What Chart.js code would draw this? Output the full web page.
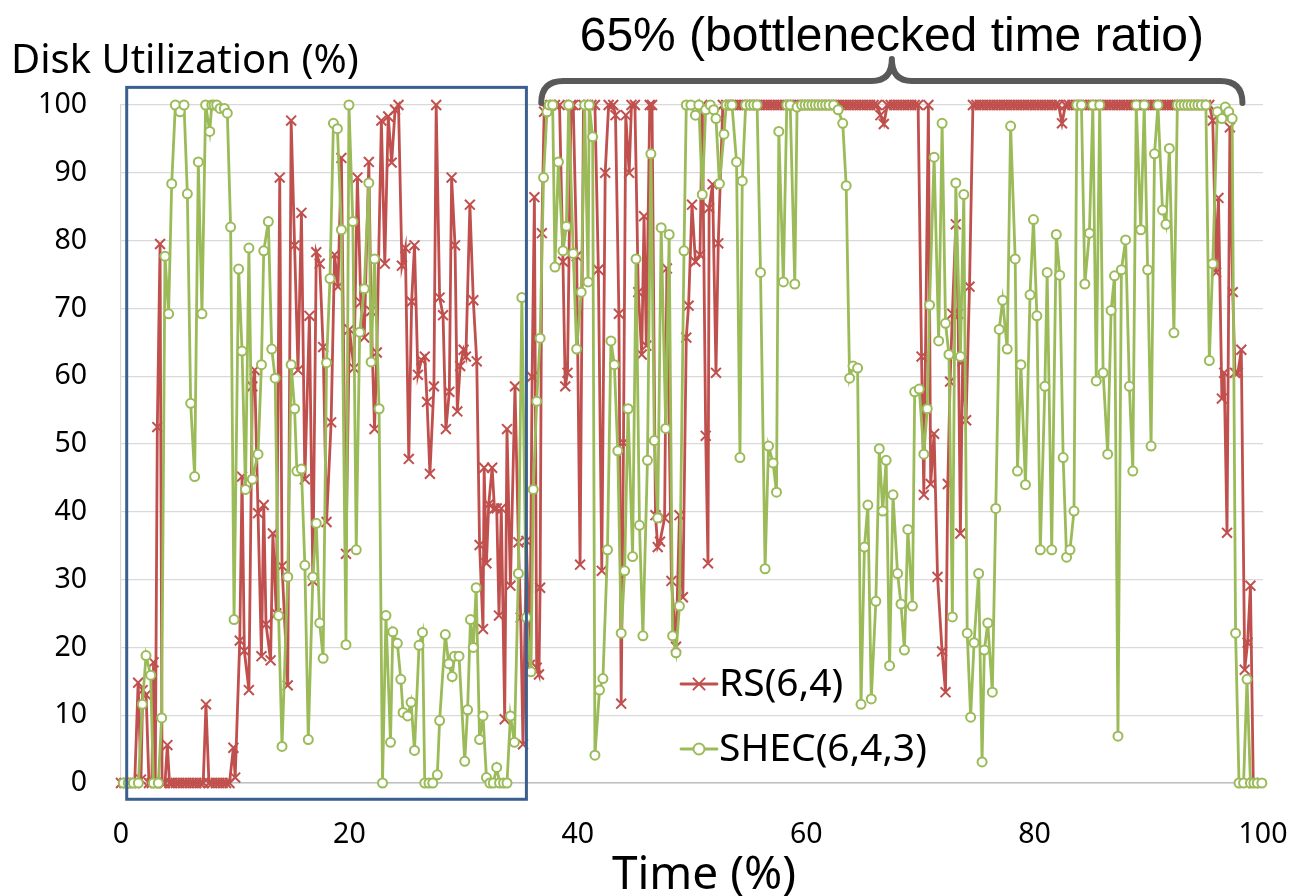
<!DOCTYPE html>
<html lang="en">
<head>
    <meta charset="UTF-8">
    <title>Disk Utilization</title>
    <script src="https://cdn.jsdelivr.net/npm/chart.js"></script>
    <style>
        html, body { margin: 0; padding: 0; background: #fff; }
    </style>
</head>
<body>
    <canvas id="diskChart" width="1293" height="896"></canvas>

    <script>
        // RS(6,4): time (%) and disk utilization (%)
        const rsTime = [
            0, 0.3, 0.6, 0.9, 1.2, 1.5, 1.75, 1.9, 2.2, 2.45,
            2.7, 2.85, 3.0, 3.18, 3.42, 3.6, 3.85, 4.06, 4.25, 4.5,
            4.8, 5.1, 5.4, 5.7, 6.0, 6.3, 6.6, 6.9, 7.2, 7.44,
            7.7, 8.0, 8.3, 8.6, 8.9, 9.2, 9.5, 9.84, 10.0, 10.4,
            10.6, 10.8, 11.2, 11.5, 11.7, 12.0, 12.3, 12.5, 12.7, 13.1,
            13.3, 13.6, 13.9, 14.1, 14.6, 14.9, 15.2, 15.5, 15.8, 16.1,
            16.5, 16.8, 17.1, 17.4, 17.7, 18.0, 18.4, 18.7, 19.0, 19.3,
            19.7, 20.0, 20.4, 20.7, 21.0, 21.3, 21.7, 21.9, 22.2, 22.4,
            22.8, 23.1, 23.4, 23.7, 24.0, 24.3, 24.6, 24.9, 25.2, 25.45,
            25.7, 26.0, 26.3, 26.6, 26.8, 27.05, 27.4, 27.6, 27.9, 28.2,
            28.45, 28.75, 28.95, 29.25, 29.45, 29.7, 30.0, 30.2, 30.55, 30.85,
            31.15, 31.4, 31.7, 31.8, 32.0, 32.2, 32.5, 32.7, 32.9, 33.1,
            33.3, 33.6, 33.8, 34.1, 34.5, 34.8, 35.0, 35.2, 35.5, 35.8,
            36.0, 36.2, 36.4, 36.6, 36.7, 36.85, 37.05, 37.3, 37.6, 38.0,
            38.4, 38.7, 38.9, 39.1, 39.4, 39.6, 39.9, 40.2, 40.5, 40.9,
            41.2, 41.5, 41.8, 42.1, 42.4, 42.7, 43.1, 43.3, 43.6, 43.8,
            44.0, 44.2, 44.5, 44.7, 45.0, 45.3, 45.6, 45.8, 46.0, 46.3,
            46.5, 46.8, 47.0, 47.2, 47.6, 47.8, 48.2, 48.6, 48.9, 49.2,
            49.5, 49.7, 50.0, 50.3, 50.7, 50.9, 51.2, 51.4, 51.5, 51.8,
            52.1, 52.3, 52.7, 53.0, 53.3, 53.6, 53.9, 54.2, 54.5, 54.8,
            55.1, 55.4, 55.7, 56.0, 56.3, 56.6, 56.9, 57.2, 57.5, 57.8,
            58.1, 58.4, 58.7, 59.0, 59.3, 59.6, 59.9, 60.2, 60.5, 60.8,
            61.1, 61.4, 61.7, 62.0, 62.3, 62.6, 62.9, 63.2, 63.5, 63.8,
            64.1, 64.4, 64.7, 65.0, 65.3, 65.6, 65.9, 66.2, 66.5, 66.8,
            67.1, 67.4, 67.7, 68.0, 68.3, 68.6, 68.9, 69.2, 69.5, 69.8,
            70.1, 70.3, 70.7, 70.9, 71.2, 71.5, 71.9, 72.2, 72.4, 72.6,
            72.8, 73.1, 73.3, 73.5, 73.7, 74.0, 74.3, 74.6, 74.9, 75.2,
            75.5, 75.8, 76.1, 76.4, 76.7, 77.0, 77.3, 77.6, 77.9, 78.2,
            78.5, 78.8, 79.1, 79.4, 79.7, 80.0, 80.3, 80.6, 80.9, 81.2,
            81.5, 81.8, 82.1, 82.4, 82.7, 83.0, 83.3, 83.6, 83.9, 84.2,
            84.5, 84.8, 85.1, 85.4, 85.7, 86.0, 86.3, 86.6, 86.9, 87.2,
            87.5, 87.8, 88.1, 88.4, 88.7, 89.0, 89.3, 89.6, 89.9, 90.2,
            90.5, 90.8, 91.1, 91.4, 91.7, 92.0, 92.3, 92.6, 92.9, 93.2,
            93.5, 93.8, 94.1, 94.4, 94.7, 95.0, 95.3, 95.6, 95.9, 96.1,
            96.4, 96.6, 96.85, 97.1, 97.35, 97.55, 97.8, 98.1, 98.4, 98.65,
            98.9, 99.15
        ];
        const rsUtil = [
            0, 0, 0, 0, 0, 14.8, 0.5, 13.7, 13, 0,
            0, 17.8, 0, 52.5, 79.5, 0, 0, 5.6, 0, 0,
            0, 0, 0, 0, 0, 0, 0, 0, 0, 11.6,
            0, 0, 0, 0, 0, 0, 0, 5.2, 0.8, 21,
            45.2, 19.5, 13.7, 58.5, 60.9, 39.8, 18.7, 41, 23.4, 18.1,
            36.8, 25, 89.3, 32, 14.4, 97.7, 79.3, 60.9, 84.1, 44.8,
            68.9, 29.8, 78.3, 76.6, 64.3, 38.5, 53.2, 77.9, 73.2, 92.2,
            33.8, 66.9, 61.2, 89.3, 70.9, 65.7, 91.6, 69.6, 52.2, 63.5,
            97.7, 76.6, 98.3, 91.5, 99.3, 100, 76.3, 78.9, 47.8, 71,
            79.3, 60.2, 62.4, 62.9, 56.2, 45.6, 58.5, 100, 71.6, 69,
            52.2, 57.7, 89.3, 79.3, 54.8, 61.5, 63.9, 62.9, 85.3, 71.2,
            62.2, 35.1, 22.7, 46.5, 32.4, 41.1, 46.5, 40.5, 40.5, 24.7,
            40.5, 9.4, 52.2, 29.1, 58.5, 35.5, 24.4, 5.7, 35.7, 17.4,
            59.9, 86.4, 17, 16, 28.8, 81.1, 99, 99.3, 100, 100,
            100, 76.9, 58.5, 60.5, 100, 100, 77.7, 32.2, 100, 100,
            100, 100, 75.7, 31.3, 90, 100, 100, 98.5, 69.2, 11.7,
            50.2, 98.5, 90, 100, 100, 72.4, 63.2, 83.6, 64.5, 100,
            100, 39.5, 34.8, 35.6, 39.1, 75.9, 29.8, 20.1, 39.5, 27.4,
            65.7, 70.4, 85.3, 76.9, 77.9, 100, 51.2, 32.4, 84.8, 88.3,
            60.5, 79.6, 100, 100, 100, 100, 100, 100, 100, 100,
            100, 100, 100, 100, 100, 100, 100, 100, 100, 100,
            100, 100, 100, 100, 100, 100, 100, 100, 100, 100,
            100, 100, 100, 100, 100, 100, 100, 100, 100, 100,
            100, 100, 100, 100, 100, 100, 100, 100, 98.5, 97.2,
            100, 100, 100, 100, 100, 100, 100, 100, 100, 100,
            62.9, 42.5, 100, 44.1, 51.5, 30.4, 19.4, 13.4, 44.1, 59.2,
            69.2, 82.4, 69.2, 36.8, 62.2, 53.5, 73.2, 100, 100, 100,
            100, 100, 100, 100, 100, 100, 100, 100, 100, 100,
            100, 100, 100, 100, 100, 100, 100, 100, 100, 100,
            100, 100, 100, 97.3, 100, 100, 100, 100, 100, 100,
            100, 100, 100, 100, 100, 100, 100, 100, 100, 100,
            100, 100, 100, 100, 100, 100, 100, 100, 100, 100,
            100, 100, 100, 100, 100, 100, 100, 100, 100, 100,
            100, 100, 100, 100, 100, 100, 100, 97.7, 75.3, 86.3,
            56.7, 60.5, 36.9, 96.7, 72.4, 60.5, 60.5, 63.9, 16.7, 20.7,
            29.1, 0
        ];

        // SHEC(6,4,3): time (%) and disk utilization (%)
        const shecTime = [
            0.2, 0.64, 1.08, 1.52, 1.87, 2.19, 2.6, 2.83, 3.27, 3.56,
            3.85, 4.17, 4.44, 4.76, 5.17, 5.52, 5.81, 6.1, 6.45, 6.77,
            7.09, 7.41, 7.77, 7.95, 8.15, 8.38, 8.67, 9.05, 9.31, 9.6,
            9.9, 10.3, 10.6, 10.9, 11.2, 11.5, 12.0, 12.3, 12.5, 12.9,
            13.2, 13.5, 13.8, 14.1, 14.6, 14.9, 15.2, 15.4, 15.8, 16.1,
            16.4, 16.8, 17.1, 17.4, 17.7, 18.0, 18.3, 18.6, 18.95, 19.3,
            19.7, 19.96, 20.3, 20.6, 20.9, 21.3, 21.7, 21.9, 22.2, 22.6,
            22.9, 23.2, 23.6, 23.8, 24.2, 24.5, 24.7, 25.1, 25.4, 25.7,
            26.1, 26.4, 26.6, 26.97, 27.3, 27.7, 27.9, 28.4, 28.7, 29.0,
            29.2, 29.6, 30.1, 30.35, 30.6, 30.85, 31.1, 31.4, 31.7, 32.0,
            32.3, 32.6, 32.9, 33.15, 33.5, 33.8, 34.1, 34.45, 34.8, 35.1,
            35.5, 35.9, 36.1, 36.4, 36.7, 37.0, 37.3, 37.5, 37.8, 38.0,
            38.3, 38.7, 39.0, 39.2, 39.6, 39.9, 40.3, 40.6, 40.9, 41.0,
            41.3, 41.5, 41.9, 42.2, 42.6, 42.9, 43.2, 43.5, 43.8, 44.1,
            44.4, 44.8, 45.1, 45.4, 45.7, 46.1, 46.4, 46.7, 47.0, 47.3,
            47.7, 48.0, 48.3, 48.6, 48.9, 49.3, 49.5, 49.9, 50.3, 50.6,
            50.9, 51.2, 51.6, 51.9, 52.1, 52.4, 52.8, 53.0, 53.3, 53.5,
            53.9, 54.2, 54.4, 54.7, 55.1, 55.4, 55.7, 56.0, 56.4, 56.7,
            57.1, 57.4, 57.6, 58.0, 58.3, 58.6, 59.0, 59.2, 59.6, 59.9,
            60.2, 60.5, 60.8, 61.1, 61.4, 61.7, 62.0, 62.4, 62.8, 63.2,
            63.5, 63.8, 64.1, 64.5, 64.8, 65.1, 65.4, 65.7, 66.1, 66.4,
            66.7, 67.0, 67.3, 67.6, 68.0, 68.3, 68.6, 68.9, 69.3, 69.5,
            69.9, 70.3, 70.6, 70.8, 71.2, 71.6, 71.9, 72.2, 72.5, 72.8,
            73.1, 73.5, 73.8, 74.1, 74.4, 74.7, 75.1, 75.4, 75.6, 75.9,
            76.3, 76.6, 76.9, 77.2, 77.6, 77.9, 78.3, 78.5, 78.8, 79.2,
            79.6, 79.9, 80.2, 80.5, 80.9, 81.1, 81.5, 81.9, 82.2, 82.5,
            82.8, 83.1, 83.45, 83.7, 84.1, 84.4, 84.8, 85.1, 85.4, 85.7,
            86.0, 86.4, 86.7, 87.0, 87.3, 87.6, 87.97, 88.3, 88.6, 88.9,
            89.3, 89.6, 89.9, 90.2, 90.5, 90.8, 91.2, 91.5, 91.8, 92.2,
            92.5, 92.8, 93.1, 93.4, 93.7, 94.0, 94.3, 94.6, 95.0, 95.3,
            95.6, 96.0, 96.4, 96.7, 97.0, 97.3, 97.6, 97.9, 98.3, 98.6,
            98.9, 99.2, 99.5, 99.9
        ];
        const shecUtil = [
            0, 0, 0, 0, 11.6, 18.8, 15.9, 0, 0, 9.6,
            77.7, 69.2, 88.4, 100, 99, 100, 86.9, 56, 45.2, 91.6,
            69.2, 100, 96.1, 100, 100, 100, 99.5, 99.5, 98.8, 82,
            24.1, 75.8, 63.7, 43.3, 78.9, 44.8, 48.5, 61.7, 78.5, 82.8,
            64, 59.7, 24.7, 5.4, 30.4, 61.7, 55.2, 46, 46.3, 32.1,
            6.4, 30.4, 38.3, 23.6, 18.4, 62, 74.4, 97.3, 96.5, 81.6,
            20.4, 100, 82.8, 34.4, 66.5, 72.9, 88.5, 62.1, 77.3, 55.2,
            0, 24.7, 6, 22.3, 20.6, 15.3, 10.4, 9.9, 11.9, 4.8,
            20.3, 22.2, 0, 0, 0, 1.2, 9.2, 21.9, 17.6, 15.7,
            18.7, 18.7, 3.2, 10.8, 24.1, 20, 28.8, 6.4, 9.9, 0.8,
            0, 0, 2.3, 0, 0, 0, 9.9, 6, 30.9, 71.6,
            24.4, 16.4, 43.3, 56.3, 65.6, 89.3, 99, 100, 100, 76.1,
            91.6, 78.5, 82.1, 100, 78.1, 64, 72.4, 100, 73.9, 100,
            95.3, 4.1, 13.7, 15.4, 34.4, 65.2, 61.7, 49, 22.1, 31.3,
            55.2, 33.4, 77.3, 38, 21.7, 47.6, 92.8, 50.5, 39.1, 81.9,
            52.3, 80.9, 21.7, 19.2, 26.1, 78.5, 100, 100, 98.5, 100,
            86.8, 99.3, 100, 99.3, 98, 88.4, 95.7, 100, 100, 100,
            91.6, 48, 88.8, 100, 100, 100, 100, 75.3, 31.6, 49.7,
            47.2, 42.9, 96.1, 73.9, 100, 100, 73.6, 99.7, 100, 100,
            100, 100, 100, 100, 100, 100, 100, 100, 99.3, 97.3,
            88.1, 59.7, 61.5, 61.2, 11.6, 34.8, 41, 12.4, 26.8, 49.3,
            40.1, 47.6, 17.3, 42.5, 30.9, 26.4, 19.6, 37.4, 26.1, 57.7,
            58.1, 48.5, 55.2, 70.5, 92.3, 65.2, 97.3, 67.8, 63.2, 24.5,
            88.5, 62.9, 86.8, 22.1, 9.7, 20.7, 30.9, 3.1, 19.6, 23.6,
            13.4, 40.5, 66.9, 71.2, 64, 96.9, 77.3, 46, 61.7, 44,
            72, 83.1, 68.9, 34.4, 58.5, 75.3, 34.4, 80.9, 74.9, 48,
            33.3, 34.4, 40.1, 100, 100, 73.6, 81.1, 100, 59.3, 100,
            60.5, 48.5, 69.7, 74.8, 6.9, 75.7, 80.1, 58.5, 46, 100,
            81.6, 100, 75.7, 49.7, 92.8, 100, 84.5, 82.4, 93.6, 66.4,
            100, 100, 100, 100, 100, 100, 100, 100, 100, 62.3,
            76.6, 99, 98, 99.7, 99, 98, 22.1, 0, 0, 15.3,
            0, 0, 0, 0
        ];

        const xTickValues = [0, 20, 40, 60, 80, 100];
        const seriesNames = ['RS(6,4)', 'SHEC(6,4,3)'];
        const yTitle = 'Disk Utilization (%)';
        const xTitle = 'Time (%)';
        const bottleneckLabel = '65% (bottlenecked time ratio)';
        // time range / utilization range of the framed early window
        const boxTime = [0.5, 35.5];
        const boxUtil = [-2.4, 102.6];
        // time span covered by the brace
        const braceTime = [36.8, 98.2];

        const RED = '#C0504D';
        const GREEN = '#9BBB59';
        const FONT = '"Noto Sans", "Liberation Sans", sans-serif';

        function toPoints(xs, ys) {
            return xs.map((t, i) => ({ x: t, y: ys[i] }));
        }

        // draws the frame, brace, titles and the in-plot legend
        const overlay = {
            id: 'overlay',
            afterDraw(chart) {
                const { ctx } = chart;
                const x = chart.scales.x;
                const y = chart.scales.y;
                const top = chart.chartArea.top;
                ctx.save();

                // frame around the first part of the run
                const bl = x.getPixelForValue(boxTime[0]);
                const br = x.getPixelForValue(boxTime[1]);
                const bt = y.getPixelForValue(boxUtil[1]);
                const bb = y.getPixelForValue(boxUtil[0]);
                ctx.strokeStyle = '#3B5F8F';
                ctx.lineWidth = 3;
                ctx.strokeRect(bl, bt, br - bl, bb - bt);

                // curly brace over the bottlenecked part
                const l = x.getPixelForValue(braceTime[0]);
                const r = x.getPixelForValue(braceTime[1]);
                const m = (l + r) / 2;
                const yEnd = top - 2, yBar = top - 24, yTip = top - 46;
                ctx.strokeStyle = '#595959';
                ctx.lineWidth = 6;
                ctx.lineCap = 'round';
                ctx.lineJoin = 'round';
                ctx.beginPath();
                ctx.moveTo(l, yEnd);
                ctx.quadraticCurveTo(l, yBar, l + 22, yBar);
                ctx.lineTo(m - 20, yBar);
                ctx.quadraticCurveTo(m, yBar, m, yTip);
                ctx.quadraticCurveTo(m, yBar, m + 20, yBar);
                ctx.lineTo(r - 22, yBar);
                ctx.quadraticCurveTo(r, yBar, r, yEnd);
                ctx.stroke();

                ctx.fillStyle = '#000';
                ctx.textBaseline = 'middle';
                ctx.textAlign = 'center';
                ctx.font = '48px "Liberation Sans Narrow", "Liberation Sans", sans-serif';
                ctx.fillText(bottleneckLabel, m, 38);

                // axis titles
                ctx.font = '40px ' + FONT;
                ctx.textAlign = 'left';
                ctx.fillText(yTitle, 11, 62);
                ctx.font = '46px ' + FONT;
                ctx.textAlign = 'center';
                ctx.fillText(xTitle, 704, 876);

                // legend
                const legendX = 681, legendRows = [684, 749];
                chart.data.datasets.forEach((ds, i) => {
                    const ly = legendRows[i];
                    const cx = legendX + 18;
                    ctx.strokeStyle = ds.borderColor;
                    ctx.lineWidth = ds.borderWidth;
                    ctx.beginPath();
                    ctx.moveTo(legendX, ly);
                    ctx.lineTo(legendX + 36, ly);
                    ctx.stroke();
                    ctx.fillStyle = ds.pointBackgroundColor;
                    ctx.strokeStyle = ds.pointBorderColor;
                    ctx.lineWidth = ds.pointBorderWidth;
                    ctx.beginPath();
                    if (ds.pointStyle === 'circle') {
                        ctx.arc(cx, ly, ds.pointRadius + 1, 0, Math.PI * 2);
                        ctx.fill();
                    } else {
                        const d = ds.pointRadius * 0.8;
                        ctx.moveTo(cx - d, ly - d);
                        ctx.lineTo(cx + d, ly + d);
                        ctx.moveTo(cx - d, ly + d);
                        ctx.lineTo(cx + d, ly - d);
                    }
                    ctx.stroke();
                    ctx.fillStyle = '#000';
                    ctx.textAlign = 'left';
                    ctx.font = '39px ' + FONT;
                    ctx.fillText(ds.label, legendX + 38, ly + 1);
                });

                ctx.restore();
            }
        };

        const ctx = document.getElementById('diskChart').getContext('2d');
        new Chart(ctx, {
            type: 'line',
            data: {
                datasets: [{
                    label: seriesNames[0],
                    data: toPoints(rsTime, rsUtil),
                    borderColor: RED,
                    borderWidth: 2.8,
                    pointStyle: 'crossRot',
                    pointRadius: 7,
                    pointBorderWidth: 2,
                    pointBorderColor: RED,
                    pointBackgroundColor: RED,
                    tension: 0,
                    clip: false,
                    order: 1
                }, {
                    label: seriesNames[1],
                    data: toPoints(shecTime, shecUtil),
                    borderColor: GREEN,
                    borderWidth: 2.8,
                    pointStyle: 'circle',
                    pointRadius: 4.5,
                    pointBorderWidth: 2,
                    pointBorderColor: GREEN,
                    pointBackgroundColor: '#fff',
                    tension: 0,
                    clip: false,
                    order: 0
                }]
            },
            options: {
                responsive: false,
                animation: false,
                layout: { padding: { top: 105, right: 30, left: 0, bottom: 0 } },
                plugins: {
                    legend: { display: false },
                    tooltip: { enabled: false }
                },
                scales: {
                    x: {
                        type: 'linear',
                        min: 0,
                        max: 100,
                        afterFit: (scale) => {
                            scale.height = 113;
                            scale.paddingLeft = 0;
                            scale.paddingRight = 0;
                        },
                        afterBuildTicks: (scale) => {
                            scale.ticks = xTickValues.map(v => ({ value: v }));
                        },
                        ticks: {
                            color: '#000',
                            padding: 35,
                            maxRotation: 0,
                            font: { size: 28.5, family: FONT }
                        },
                        grid: { display: false, drawTicks: false },
                        border: { display: true, color: '#BFBFBF', width: 1.5 }
                    },
                    y: {
                        min: 0,
                        max: 100,
                        afterFit: (scale) => { scale.width = 121; },
                        ticks: {
                            stepSize: 10,
                            color: '#000',
                            padding: 34,
                            font: { size: 28.5, family: FONT }
                        },
                        grid: { color: '#D9D9D9', lineWidth: 1.2, drawTicks: false },
                        border: { display: true, color: '#D9D9D9', width: 1.2 }
                    }
                }
            },
            plugins: [overlay]
        });
    </script>
</body>
</html>
